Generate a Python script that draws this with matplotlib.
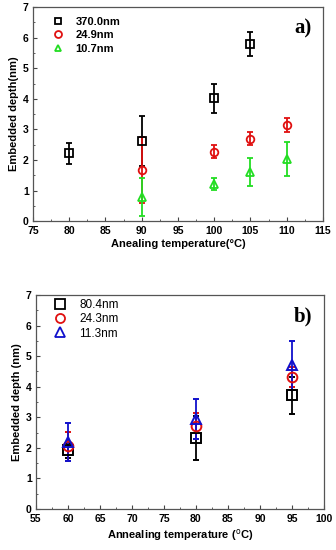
import matplotlib
matplotlib.use('Agg')
import matplotlib.pyplot as plt
from matplotlib.ticker import MultipleLocator
from matplotlib.lines import Line2D

plt.rcParams['font.family'] = ['Liberation Sans', 'DejaVu Sans']

# panel a) data
temp_a_370 = [80, 90, 100, 105]
depth_a_370 = [2.22, 2.62, 4.02, 5.80]
err_a_370 = [0.35, 0.83, 0.47, 0.40]

temp_a_249 = [90, 100, 105, 110]
depth_a_249 = [1.68, 2.27, 2.70, 3.15]
err_a_249 = [1.08, 0.22, 0.22, 0.23]

temp_a_107 = [90, 100, 105, 110]
depth_a_107 = [0.78, 1.22, 1.60, 2.03]
err_a_107 = [0.62, 0.20, 0.45, 0.57]

# panel b) data
temp_b = [60, 80, 95]
depth_b_804 = [1.92, 2.33, 3.72]
err_b_804 = [0.25, 0.72, 0.60]
depth_b_243 = [2.05, 2.72, 4.32]
err_b_243 = [0.48, 0.42, 0.32]
depth_b_113 = [2.20, 2.95, 4.70]
err_b_113 = [0.62, 0.65, 0.80]

labels_a = ['370.0nm', '24.9nm', '10.7nm']
labels_b = ['80.4nm', '24.3nm', '11.3nm']
colors_a = ['black', '#e01010', '#22dd22']
colors_b = ['black', '#e01010', '#1010cc']
markers = ['s', 'o', '^']


def style_axes(ax, xlim, xlabel, ylabel):
    ax.set_xlim(*xlim)
    ax.set_ylim(0, 7)
    ax.xaxis.set_major_locator(MultipleLocator(5))
    ax.xaxis.set_minor_locator(MultipleLocator(2.5))
    ax.yaxis.set_major_locator(MultipleLocator(1))
    ax.yaxis.set_minor_locator(MultipleLocator(0.5))
    ax.tick_params(which='both', direction='in', top=False, right=False,
                   labelsize=7.5, color='#444444')
    ax.tick_params(axis='x', pad=3.5)
    ax.tick_params(axis='y', pad=3)
    ax.tick_params(which='major', length=3)
    ax.tick_params(which='minor', length=1.5)
    for lab in ax.get_xticklabels() + ax.get_yticklabels():
        lab.set_fontweight('bold')
    for sp in ax.spines.values():
        sp.set_color('#555555')
        sp.set_linewidth(0.9)
    ax.set_xlabel(xlabel, fontsize=8, fontweight='bold', labelpad=2)
    ax.set_ylabel(ylabel, fontsize=8, fontweight='bold', labelpad=3)


def marker_handles(colors, ms):
    return [Line2D([], [], ls='none', marker=m, mfc='none', mec=c, ms=ms, mew=1.3)
            for c, m in zip(colors, markers)]


fig = plt.figure(figsize=(3.36, 5.5), dpi=100)

# ---- a)
ax1 = fig.add_axes([0.098, 0.598, 0.863, 0.389])
series_a = [(temp_a_370, depth_a_370, err_a_370),
            (temp_a_249, depth_a_249, err_a_249),
            (temp_a_107, depth_a_107, err_a_107)]
for (x, y, e), c, m in zip(series_a, colors_a, markers):
    ax1.errorbar(x, y, yerr=e, fmt=m, color=c, mfc='none', mec=c, ms=5.5,
                 mew=1.3, ecolor=c, elinewidth=1.3, capsize=2.5, capthick=1.3)
style_axes(ax1, (75, 115), 'Anealing temperature(\u00b0C)', 'Embedded depth(nm)')
ax1.legend(marker_handles(colors_a, 5), labels_a, loc='upper left', frameon=False,
           bbox_to_anchor=(0.04, 0.985), borderaxespad=0.2,
           handlelength=1.2, handletextpad=1.0, labelspacing=0.3,
           prop={'weight': 'bold', 'size': 8})
ax1.text(0.96, 0.9, 'a)', transform=ax1.transAxes, ha='right', va='center',
         fontsize=15, fontweight='bold', family='Liberation Serif')

# ---- b)
ax2 = fig.add_axes([0.107, 0.0745, 0.857, 0.389])
series_b = [(depth_b_804, err_b_804), (depth_b_243, err_b_243), (depth_b_113, err_b_113)]
for (y, e), c, m in zip(series_b, colors_b, markers):
    ax2.errorbar(temp_b, y, yerr=e, fmt=m, color=c, mfc='none', mec=c, ms=7,
                 mew=1.4, ecolor=c, elinewidth=1.3, capsize=2.5, capthick=1.3)
style_axes(ax2, (55, 100), 'Annealing temperature ($^{\\rm o}$C)', 'Embedded depth (nm)')
ax2.legend(marker_handles(colors_b, 6.5), labels_b, loc='upper left', frameon=False,
           bbox_to_anchor=(0.04, 1.01), borderaxespad=0.1,
           fontsize=8.5, handlelength=1.2, handletextpad=1.0, labelspacing=0.2)
ax2.text(0.96, 0.9, 'b)', transform=ax2.transAxes, ha='right', va='center',
         fontsize=15, fontweight='bold', family='Liberation Serif')

fig.savefig('out.png', dpi=100)
